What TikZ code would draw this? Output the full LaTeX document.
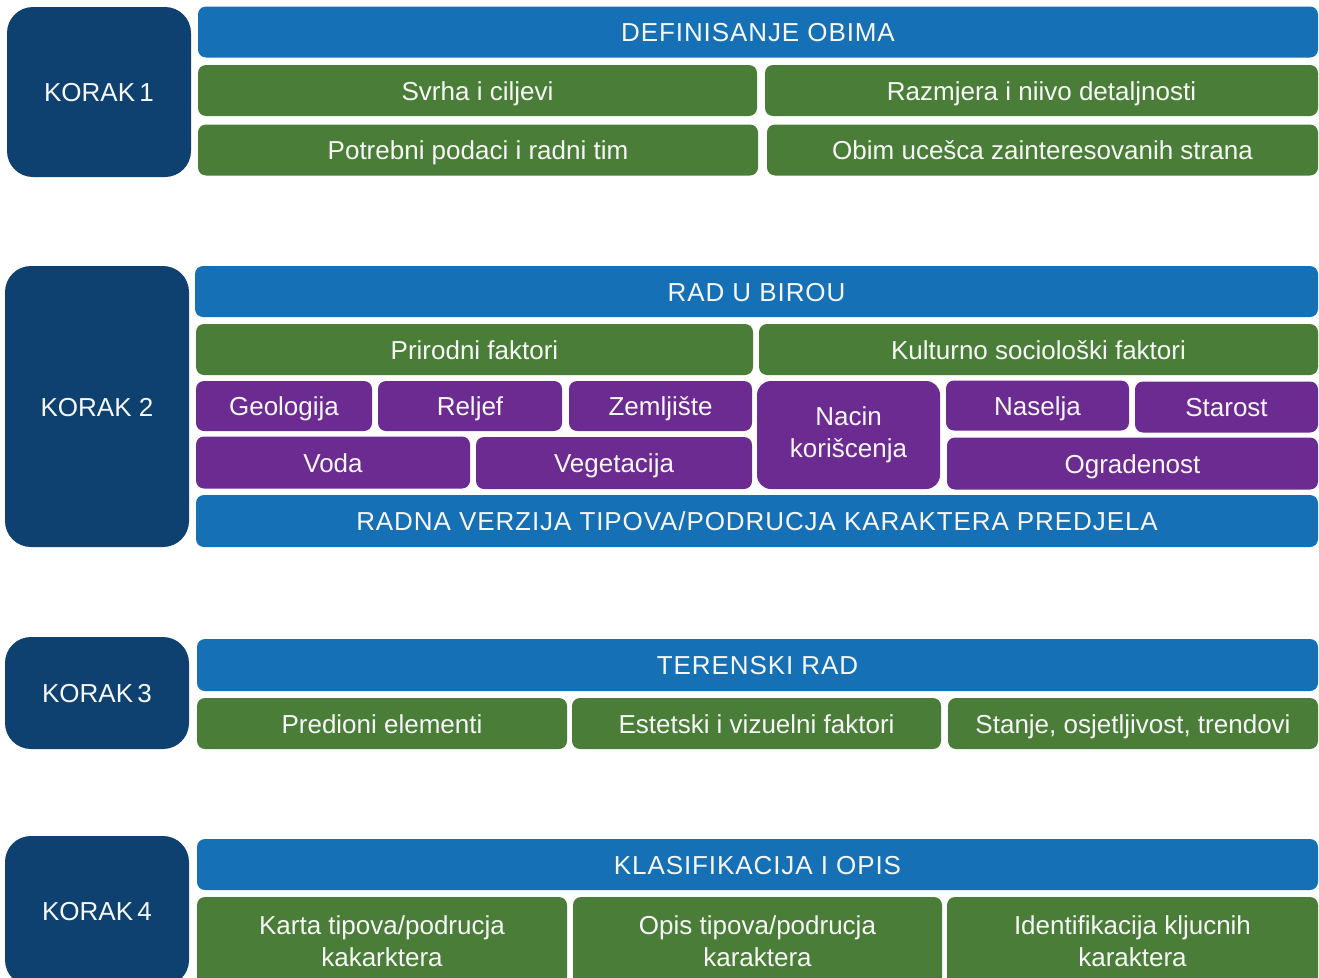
\documentclass[tikz,border=0pt]{standalone}
\usepackage{fontspec}
\setmainfont{Liberation Sans}
\newfontfamily\headfont[LetterSpace=3.5]{Liberation Sans}
\usetikzlibrary{positioning}
\definecolor{korakblue}{HTML}{0E4170}
\definecolor{headblue}{HTML}{1570B6}
\definecolor{cellgreen}{HTML}{4A7D38}
\definecolor{cellpurple}{HTML}{6B2B90}

\begin{document}
\begin{tikzpicture}[x=1pt, y=-1pt,
        box/.style={inner sep=0, outer sep=0, rounded corners=8pt, text=white!94!gray,
            align=center, font=\fontsize{26}{32}\selectfont},
        oneline/.style={text height=19, text depth=0},
        korak/.style={box, oneline, fill=korakblue, minimum width=184, rounded corners=26pt},
        head/.style={box, oneline, fill=headblue, minimum height=51, font=\headfont\fontsize{26}{32}\selectfont},
        green/.style={box, oneline, fill=cellgreen, minimum height=51},
        purple/.style={box, oneline, fill=cellpurple, minimum height=51},
        greentwo/.style={box, fill=cellgreen, minimum height=88},
        purpletwo/.style={box, fill=cellpurple, rounded corners=14pt}]
    \useasboundingbox (0,0) rectangle (1319,977);
    \clip (0,0) rectangle (1319,977);
    \fill[white] (0,0) rectangle (1319,977);

    \node[korak, minimum height=170] (k1) at (99,92) {KORAK\,1};
    \node[head, minimum width=1120] (def) at (758,32) {DEFINISANJE OBIMA};
    \node[green, minimum width=559] (svrha) at (477.5,90.5) {Svrha i ciljevi};
    \node[green, minimum width=553] (razmjera) at (1041.5,90.5) {Razmjera i niivo detaljnosti};
    \node[green, minimum width=560] (podaci) at (478,150) {Potrebni podaci i radni tim};
    \node[green, minimum width=551] (obim) at (1042.5,150) {Obim ucešca zainteresovanih strana};

    \node[korak, minimum height=281] (k2) at (97,406.5) {KORAK 2};
    \node[head, minimum width=1123] (rad) at (756.5,291.5) {RAD U BIROU};
    \node[green, minimum width=557] (prirodni) at (474.5,349.5) {Prirodni faktori};
    \node[green, minimum width=559] (kulturno) at (1038.5,349.5) {Kulturno sociološki faktori};
    \node[purple, minimum width=176, minimum height=50] (geologija) at (284,406) {Geologija};
    \node[purple, minimum width=184, minimum height=50] (reljef) at (470,406) {Reljef};
    \node[purple, minimum width=183, minimum height=50] (zemljiste) at (660.5,406) {Zemljište};
    \node[purpletwo, minimum width=183, minimum height=108] (nacin) at (848.5,435) {Nacin\\korišcenja};
    \node[purple, minimum width=183, minimum height=50] (naselja) at (1037.5,405.5) {Naselja};
    \node[purple, minimum width=183, minimum height=51] (starost) at (1226.5,407) {Starost};
    \node[purple, minimum width=274, minimum height=52] (voda) at (333,462.5) {Voda};
    \node[purple, minimum width=276, minimum height=52] (vegetacija) at (614,463) {Vegetacija};
    \node[purple, minimum width=371, minimum height=52] (ogradenost) at (1132.5,463.5) {Ogradenost};
    \node[head, minimum width=1122, minimum height=52] (radna) at (757,521) {RADNA VERZIJA TIPOVA/PODRUCJA KARAKTERA PREDJELA};

    \node[korak, minimum height=112] (k3) at (97,693) {KORAK\,3};
    \node[head, minimum width=1121, minimum height=52] (terenski) at (757.5,665) {TERENSKI RAD};
    \node[green, minimum width=370] (predioni) at (382,723.5) {Predioni elementi};
    \node[green, minimum width=369] (estetski) at (756.5,723.5) {Estetski i vizuelni faktori};
    \node[green, minimum width=370] (stanje) at (1133,723.5) {Stanje, osjetljivost, trendovi};

    \node[korak, minimum height=150] (k4) at (97,911) {KORAK\,4};
    \node[head, minimum width=1121] (klasif) at (757.5,864.5) {KLASIFIKACIJA I OPIS};
    \node[greentwo, minimum width=370] (karta) at (382,941) {Karta tipova/podrucja\\kakarktera};
    \node[greentwo, minimum width=369] (opis) at (757.5,941) {Opis tipova/podrucja\\karaktera};
    \node[greentwo, minimum width=371] (identif) at (1132.5,941) {Identifikacija kljucnih\\karaktera};
\end{tikzpicture}
\end{document}
